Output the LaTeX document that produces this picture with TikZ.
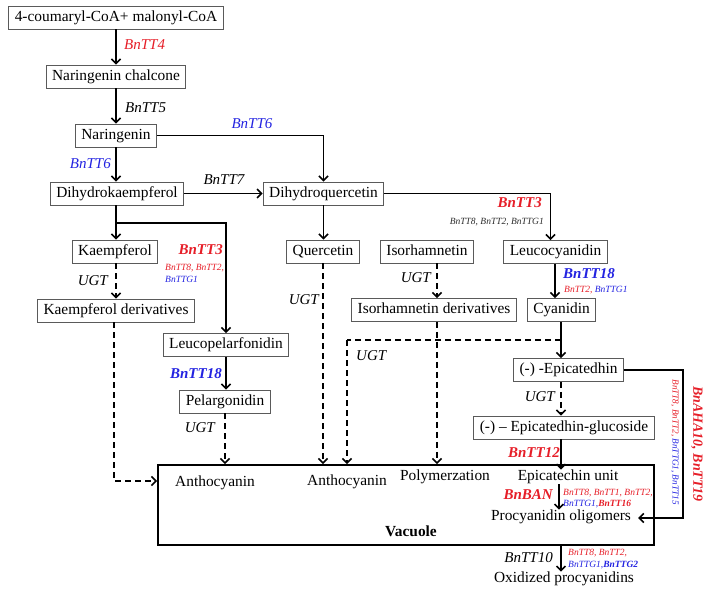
\documentclass[tikz,border=0pt]{standalone}
\usepackage{fontspec}
\setmainfont{Liberation Serif}
\usetikzlibrary{arrows.meta}
\definecolor{myred}{RGB}{230,30,40}
\definecolor{myblue}{RGB}{35,35,225}
\definecolor{boxgray}{RGB}{90,90,90}
\definecolor{darktxt}{RGB}{45,45,45}
\begin{document}
\begin{tikzpicture}[x=1pt,y=-1pt,
 box/.style={draw=boxgray,line width=0.9pt,inner xsep=6pt,inner ysep=0pt,minimum height=23pt,text height=10.8pt,text depth=3.4pt,font=\fontsize{15.4}{16}\selectfont},
 txt/.style={inner sep=0pt,text height=10.8pt,text depth=3.4pt,font=\fontsize{15.4}{16}\selectfont},
 lab/.style={inner sep=0pt,font=\fontsize{15}{16}\selectfont\itshape},
 blab/.style={inner sep=0pt,font=\fontsize{15}{16}\selectfont\bfseries\itshape},
 slab/.style={inner sep=0pt,font=\fontsize{9.5}{10}\selectfont\itshape},
 arr/.style={line width=1.9pt,-{Straight Barb[length=4.5pt,width=9pt,line width=1.6pt]}},
 darr/.style={arr,dash pattern=on 6pt off 4pt},
 ln/.style={line width=1.9pt},
 dln/.style={line width=1.9pt,dash pattern=on 6pt off 4pt}]
\useasboundingbox (0,0) rectangle (708,594);
% boxes
\node[box] (coa) at (116,17.5) {4-coumaryl-CoA+ malonyl-CoA};
\node[box] (chal) at (116,76.5) {Naringenin chalcone};
\node[box] (nar) at (116,135.5) {Naringenin};
\node[box] (dhk) at (117,193.5) {Dihydrokaempferol};
\node[box] (dhq) at (323.5,193.5) {Dihydroquercetin};
\node[box] (kae) at (115,251.5) {Kaempferol};
\node[box] (kaed) at (116,310.5) {Kaempferol derivatives};
\node[box] (que) at (323,251.5) {Quercetin};
\node[box] (iso) at (427,251.5) {Isorhamnetin};
\node[box] (isod) at (434,310) {Isorhamnetin derivatives};
\node[box] (leuco) at (555.5,252) {Leucocyanidin};
\node[box] (cya) at (561.5,310) {Cyanidin};
\node[box] (lpel) at (226,345) {Leucopelarfonidin};
\node[box] (pel) at (225,401.5) {Pelargonidin};
\node[box] (epi) at (568.5,370) {(-) -Epicatedhin};
\node[box] (glu) at (564,427.5) {(-) -- Epicatedhin-glucoside};
\node[draw,line width=1.9pt,minimum width=496pt,minimum height=80pt,inner sep=0pt] (vac) at (406,505) {};
% texts inside vacuole
\node[txt] (an1) at (215,483) {Anthocyanin};
\node[txt] (an2) at (347,482) {Anthocyanin};
\node[txt] (poly) at (445,477) {Polymerzation};
\node[txt] (eu) at (568,477) {Epicatechin unit};
\node[txt] (pro) at (561,517) {Procyanidin oligomers};
\node[txt,font=\fontsize{15.4}{16}\selectfont\bfseries] (vl) at (411,533) {Vacuole};
\node[txt] (ox) at (564,579) {Oxidized procyanidins};
% coordinates
\coordinate (br) at (116,223);
\coordinate (k1) at (114,481);
\coordinate (px) at (437,0);
\coordinate (lx) at (555,0);
\coordinate (cx) at (561,340);
\coordinate (ux) at (347,340);
\coordinate (bx) at (559,0);
\coordinate (r2) at (683,518);
% connectors
\draw[arr] (coa) -- (chal);
\draw[arr] (chal) -- (nar);
\draw[arr] (nar.south) -- (nar.south |- dhk.north);
\draw[arr] (nar.east) -| (dhq.north);
\draw[arr] (dhk.east) -- (dhq.west);
\draw[arr] (dhq.east) -| ([xshift=-5pt]leuco.north);
\draw[arr] (dhq.south) -- (dhq.south |- que.north);
\draw[ln] (dhk.south -| br) -- (br);
\draw[arr] (br) -- (br |- kae.north);
\draw[arr] (br) -| (lpel.north);
\draw[darr] (kae.south -| br) -- (kaed.north -| br);
\draw[darr] (kaed.south -| k1) -- (k1) -- (vac.west |- k1);
\draw[arr] (lpel) -- (lpel |- pel.north);
\draw[darr] (pel.south) -- (pel.south |- vac.north);
\draw[darr] (que.south) -- (que.south |- vac.north);
\draw[darr] (iso.south -| px) -- (isod.north -| px);
\draw[darr] (isod.south -| px) -- (px |- vac.north);
\draw[arr] (leuco.south -| lx) -- (cya.north -| lx);
\draw[ln] (cya.south -| cx) -- (cx);
\draw[arr] (cx) -- (cx |- epi.north);
\draw[dln] (cx) -- (ux);
\draw[darr] (ux) -- (ux |- vac.north);
\draw[darr] (epi.south -| cx) -- (glu.north -| cx);
\draw[arr] (glu.south -| cx) -- (cx |- eu.north);
\draw[arr] (eu.south -| bx) -- (pro.north -| bx);
\draw[arr] (epi.east) -| (r2) -- ([xshift=7pt]pro.east |- r2);
\draw[arr] (vac.south -| cx) -- (cx |- ox.north);
% labels
\node[lab,text=myred,anchor=west] (l1) at (124,45) {BnTT4};
\node[lab,anchor=west] (l2) at (125,108) {BnTT5};
\node[lab,text=myblue] (l3) at (252,124) {BnTT6};
\node[lab,text=myblue,anchor=east] (l4) at (111,164) {BnTT6};
\node[lab] (l5) at (224,180) {BnTT7};
\node[blab,text=myred,anchor=east] (l6) at (542,203) {BnTT3};
\node[slab,text=darktxt,anchor=east] (l7) at (544,222) {BnTT8, BnTT2, BnTTG1};
\node[blab,text=myblue,anchor=west] (l8) at (563,274) {BnTT18};
\node[slab,anchor=west] (l9) at (564,290) {\textcolor{myred}{BnTT2,} \textcolor{myblue}{BnTTG1}};
\node[lab,anchor=east] (l10) at (431,278) {UGT};
\node[blab,text=myred,anchor=east] (l11) at (223,250) {BnTT3};
\node[slab,text=myred,anchor=west] (l12) at (165,268) {BnTT8, BnTT2,};
\node[slab,text=myblue,anchor=west] (l13) at (165,279) {BnTTG1};
\node[lab,anchor=east] (l14) at (108,281) {UGT};
\node[lab,anchor=east] (l15) at (319,300) {UGT};
\node[lab,anchor=west] (l16) at (356,356) {UGT};
\node[blab,text=myblue,anchor=east] (l17) at (222,374) {BnTT18};
\node[lab,anchor=east] (l18) at (215,428) {UGT};
\node[lab,anchor=east] (l19) at (555,397) {UGT};
\node[blab,text=myred,anchor=east] (l20) at (560,453) {BnTT12};
\node[blab,text=myred,anchor=east] (l21) at (553,495) {BnBAN};
\node[slab,text=myred,anchor=west] (l22) at (563,493) {BnTT8, BnTT1, BnTT2,};
\node[slab,anchor=west] (l23) at (563,504) {\textcolor{myblue}{BnTTG1,}\textcolor{myred}{\bfseries BnTT16}};
\node[lab,anchor=east] (l24) at (553,558) {BnTT10};
\node[slab,text=myred,anchor=west] (l25) at (568,553) {BnTT8, BnTT2,};
\node[slab,text=myblue,anchor=west] (l26) at (568,565) {BnTTG1,\textbf{BnTTG2}};
\node[blab,text=myred,rotate=-90,font=\fontsize{14}{15}\selectfont\bfseries\itshape] (l27) at (697,444) {BnAHA10, BnTT19};
\node[slab,rotate=-90,font=\fontsize{9.2}{10}\selectfont\itshape] (l28) at (675,442) {\textcolor{myred}{BnTT8, BnTT2,} \textcolor{myblue}{BnTTG1, BnTT15}};
\end{tikzpicture}
\end{document}
